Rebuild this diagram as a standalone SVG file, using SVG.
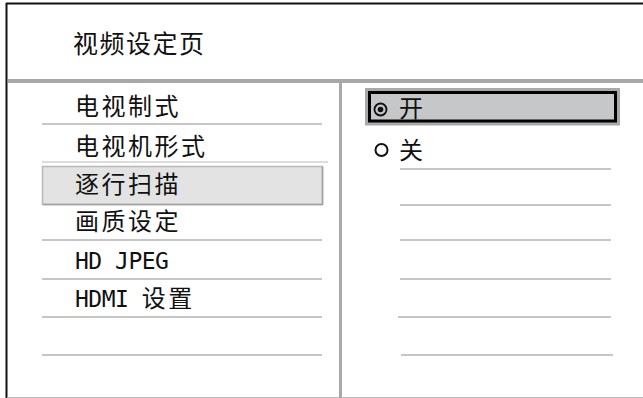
<svg xmlns="http://www.w3.org/2000/svg" width="643" height="398" viewBox="0 0 643 398">
<style>
.t{font-family:"Noto Sans CJK SC","Noto Sans CJK TC",sans-serif;font-size:24px;font-weight:400;fill:#111;letter-spacing:2.5px}
.h{font-size:25px;letter-spacing:1.5px}
.m{font-family:"DejaVu Sans Mono","Liberation Mono",monospace;font-size:23px;font-weight:400;letter-spacing:-0.5px}
.ln{stroke:#c6c6c6;stroke-width:2}
</style>
<rect x="0" y="0" width="643" height="398" fill="#fff"/>
<g id="frame">
<line x1="6" y1="3.5" x2="643" y2="3.5" stroke="#111" stroke-width="2"/>
<line x1="6.5" y1="3" x2="6.5" y2="398" stroke="#111" stroke-width="2"/>
<line x1="7" y1="397.5" x2="643" y2="397.5" stroke="#bbb" stroke-width="1"/>
<rect x="8" y="79" width="635" height="4" fill="#a8a8a8"/>
<rect x="339" y="83" width="3" height="315" fill="#a8a8a8"/>
</g>
<g id="header"><text class="t h" x="73" y="53">视频设定页</text></g>
<g id="connectors">
<line class="ln" x1="42" y1="124" x2="322" y2="124"/>
<line x1="42" y1="162" x2="328" y2="162" stroke="#dcdcdc" stroke-width="2"/>
<line class="ln" x1="42" y1="240" x2="322" y2="240"/>
<line class="ln" x1="42" y1="279" x2="322" y2="279"/>
<line class="ln" x1="42" y1="317" x2="322" y2="317"/>
<line class="ln" x1="42" y1="355" x2="322" y2="355"/>
<line class="ln" x1="400" y1="169" x2="611" y2="169"/>
<line class="ln" x1="400" y1="205" x2="611" y2="205"/>
<line class="ln" x1="400" y1="240" x2="611" y2="240"/>
<line class="ln" x1="400" y1="279" x2="611" y2="279"/>
<line class="ln" x1="398" y1="317" x2="611" y2="317"/>
<line class="ln" x1="401" y1="355" x2="613" y2="355"/>
</g>
<g id="item-tv-system"><text class="t" x="75" y="115">电视制式</text></g>
<g id="item-tv-type"><text class="t" x="75" y="155">电视机形式</text></g>
<g id="item-progressive">
<rect x="42.5" y="166.5" width="280" height="38" fill="#e2e3e2" stroke="#b8b8b8" stroke-width="1.5"/>
<line x1="43" y1="204.5" x2="323" y2="204.5" stroke="#a0a0a0" stroke-width="1.5"/>
<line x1="322.5" y1="167" x2="322.5" y2="205" stroke="#a0a0a0" stroke-width="1.5"/>
<text class="t" x="75" y="193">逐行扫描</text>
</g>
<g id="item-quality"><text class="t" x="75" y="230">画质设定</text></g>
<g id="item-hdjpeg"><text class="t m" x="75" y="269">HD JPEG</text></g>
<g id="item-hdmi"><text class="t" x="75" y="307"><tspan class="m">HDMI </tspan>设置</text></g>
<g id="opt-on">
<rect x="365" y="88" width="255" height="37.5" fill="#a9a9a9"/>
<rect x="369.5" y="92.5" width="246" height="28.5" fill="#c6c7c9" stroke="#000" stroke-width="3"/>
<circle cx="380.5" cy="109.5" r="6" fill="none" stroke="#111" stroke-width="1.8"/>
<circle cx="380.5" cy="109.5" r="2.8" fill="#111"/>
<text class="t" x="399" y="117">开</text>
</g>
<g id="opt-off">
<circle cx="381.5" cy="150" r="6" fill="none" stroke="#111" stroke-width="2"/>
<text class="t" x="399" y="159">关</text>
</g>
</svg>
